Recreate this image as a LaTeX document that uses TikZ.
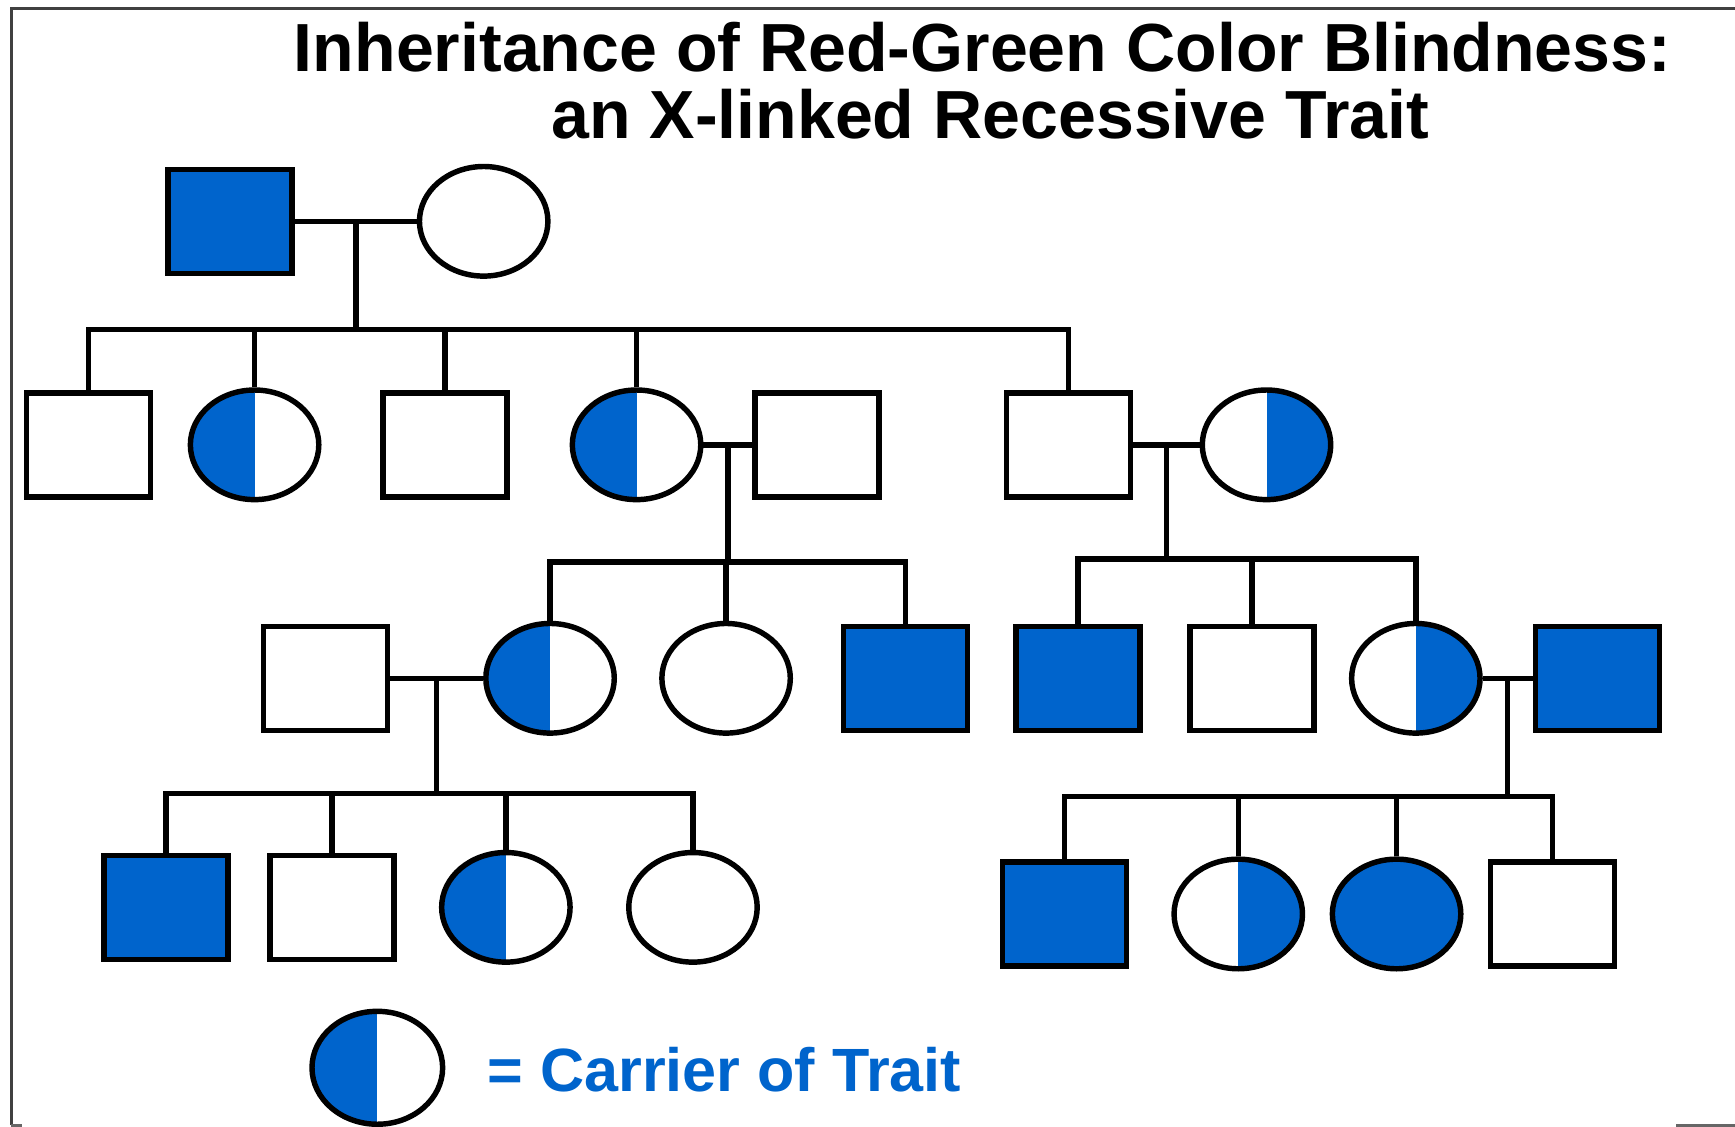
\documentclass[tikz,border=0pt]{standalone}
\usepackage{fontspec}
\setmainfont{Liberation Sans}
\usepackage{xcolor}
\usepackage{tikz}
\usetikzlibrary{calc, shapes.geometric, positioning}
\definecolor{traitblue}{RGB}{0,100,204}
\tikzset{
    malenode/.style = {draw, rectangle, line width=1.4pt, fill=white, inner sep=0em,
      node distance=0em, minimum width=1.12cm, minimum height=0.94cm},
    femalenode/.style = {draw, ellipse, line width=1.4pt, fill=white, inner sep=0em,
      node distance=0em, minimum width=1.16cm, minimum height=0.99cm},
    affected/.style = {fill=traitblue},
    carrierleft/.style = {path picture={\fill[traitblue] (path picture bounding box.south west)
      rectangle (path picture bounding box.north);}},
    carrierright/.style = {path picture={\fill[traitblue] (path picture bounding box.south)
      rectangle (path picture bounding box.north east);}},
    link/.style = {black, line width=1.4pt},
    titlenode/.style = {draw=none, fill=none, inner sep=0em, anchor=base,
      font=\bfseries\fontsize{17.5}{20}\selectfont},
    keynode/.style = {draw=none, fill=none, inner sep=0em, anchor=base west, text=traitblue,
      font=\bfseries\fontsize{15.7}{18}\selectfont}
}
\begin{document}
\begin{tikzpicture}[x=0.01cm, y=-0.01cm]
\useasboundingbox (0,0) rectangle (1568,1018);
\draw[black!75, line width=0.8pt] (10,1017) -- (10,8) -- (1575,8);
\draw[black!60, line width=0.8pt] (10,1017) -- (20,1017) (1515,1017) -- (1575,1017);

\node[titlenode, name=title] at (888,65) {Inheritance of Red-Green Color Blindness:};
\node[titlenode, name=subtitle] at (895,125) {an X-linked Recessive Trait};

% generation I
\node[malenode, affected, name=I1] at (208,200) {};
\node[femalenode, name=I2, right of=I1, xshift=2.29cm] {};

% generation II
\node[malenode, name=II1] at (80,402) {};
\node[femalenode, carrierleft, name=II2, right of=II1, xshift=1.50cm] {};
\node[malenode, name=II3, right of=II2, xshift=1.72cm] {};
\node[femalenode, carrierleft, name=II4, right of=II3, xshift=1.73cm] {};
\node[malenode, name=II5, right of=II4, xshift=1.63cm] {};
\node[malenode, name=II6, right of=II5, xshift=2.27cm] {};
\node[femalenode, carrierright, name=II7, right of=II6, xshift=1.79cm] {};

% generation III
\node[malenode, name=III1] at (294,613) {};
\node[femalenode, carrierleft, name=III2, right of=III1, xshift=2.03cm] {};
\node[femalenode, name=III3, right of=III2, xshift=1.59cm] {};
\node[malenode, affected, name=III4, right of=III3, xshift=1.62cm] {};
\node[malenode, affected, name=III5, right of=III4, xshift=1.56cm] {};
\node[malenode, name=III6, right of=III5, xshift=1.57cm] {};
\node[femalenode, carrierright, name=III7, right of=III6, xshift=1.48cm] {};
\node[malenode, affected, name=III8, right of=III7, xshift=1.64cm] {};

% generation IV
\node[malenode, affected, name=IV1] at (150,820) {};
\node[malenode, name=IV2, right of=IV1, xshift=1.50cm] {};
\node[femalenode, carrierleft, name=IV3, right of=IV2, xshift=1.57cm] {};
\node[femalenode, name=IV4, right of=IV3, xshift=1.69cm] {};
\node[malenode, affected, name=IV5] at (962,826) {};
\node[femalenode, carrierright, name=IV6, right of=IV5, xshift=1.57cm] {};
\node[femalenode, affected, name=IV7, right of=IV6, xshift=1.43cm] {};
\node[malenode, name=IV8, right of=IV7, xshift=1.41cm] {};

% couples and sibships
\draw[link] (I1.east) -- (I2.west);
\coordinate (m1) at ($(I1.east)!0.5!(I2.west)$);
\draw[link] (m1) -- ++(0,98) coordinate (b1);
\draw[link] (II1.north) |- (b1) -| (II6.north);
\foreach \kid in {II2, II3, II4} \draw[link] (\kid.north) -- (\kid.north |- b1);

\draw[link] (II4.east) -- (II5.west);
\coordinate (m2) at ($(II4.east)!0.5!(II5.west)$);
\draw[link] (m2) -- ++(0,106) coordinate (b2);
\draw[link] (III2.north) |- (b2) -| (III4.north);
\draw[link] (III3.north) -- (III3.north |- b2);

\draw[link] (II6.east) -- (II7.west);
\coordinate (m3) at ($(II6.east)!0.5!(II7.west)$);
\draw[link] (m3) -- ++(0,103) coordinate (b3);
\draw[link] (III5.north) |- (b3) -| (III7.north);
\draw[link] (III6.north) -- (III6.north |- b3);

\draw[link] (III1.east) -- (III2.west);
\coordinate (m4) at ($(III1.east)!0.5!(III2.west)$);
\draw[link] (m4) -- ++(0,104) coordinate (b4);
\draw[link] (IV1.north) |- (b4) -| (IV4.north);
\foreach \kid in {IV2, IV3} \draw[link] (\kid.north) -- (\kid.north |- b4);

\draw[link] (III7.east) -- (III8.west);
\coordinate (m5) at ($(III7.east)!0.5!(III8.west)$);
\draw[link] (m5) -- ++(0,107) coordinate (b5);
\draw[link] (IV5.north) |- (b5) -| (IV8.north);
\foreach \kid in {IV6, IV7} \draw[link] (\kid.north) -- (\kid.north |- b5);

% key
\node[femalenode, carrierleft, name=key, minimum width=1.18cm, minimum height=1.02cm] at (341,965) {};
\node[keynode, name=keylabel] at (440,986) {= Carrier of Trait};
\end{tikzpicture}
\end{document}
